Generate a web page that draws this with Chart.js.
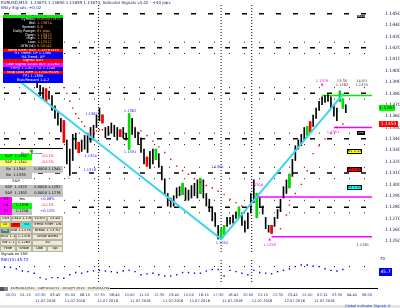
<!DOCTYPE html>
<html>
<head>
<meta charset="utf-8">
<title>EURUSD M15</title>
<script src="https://cdn.jsdelivr.net/npm/chart.js@4.4.1/dist/chart.umd.min.js"></script>
<style>
  html, body { margin: 0; padding: 0; background: #fff; }
  #wrap { position: relative; width: 400px; height: 308px; overflow: hidden; font-family: 'DejaVu Sans', sans-serif; }
  canvas { position: absolute; left: 0; }
  .c { position: absolute; box-sizing: border-box; font-size: 3.6px; line-height: 3.8px; white-space: nowrap; overflow: hidden;
       display: flex; flex-direction: column; justify-content: center; align-items: center; text-align: center; }
  .t { position: absolute; white-space: nowrap; font-size: 4px; line-height: 4px; }
  .n { position: absolute; white-space: nowrap; font-size: 3.6px; line-height: 3.6px; transform: translate(-50%, -50%); text-align: center; }
</style>
</head>
<body>
<div id="wrap">
  <canvas id="main" width="400" height="256" style="top:0;width:400px;height:256px"></canvas>
  <canvas id="ind" width="400" height="30" style="top:256px;width:400px;height:30px"></canvas>
</div>
<script>
// price bars (M15), index 0..115
const barHigh = [
  1.1430, 1.1429, 1.1424, 1.1420, 1.1416, 1.1414, 1.1412, 1.1407, 1.1406, 1.1402,
  1.1399, 1.1394, 1.1387, 1.1385, 1.1384, 1.1382, 1.1378, 1.1369, 1.1363, 1.1358,
  1.1356, 1.1339, 1.1331, 1.1344, 1.1345, 1.1337, 1.1339, 1.1343, 1.1345, 1.1350,
  1.1352, 1.1361, 1.1367, 1.1361, 1.1350, 1.1351, 1.1354, 1.1352, 1.1350, 1.1348,
  1.1350, 1.1345, 1.1362, 1.1358, 1.1350, 1.1346, 1.1341, 1.1331, 1.1324, 1.1329,
  1.1331, 1.1331, 1.1327, 1.1316, 1.1305, 1.1292, 1.1288, 1.1290, 1.1297, 1.1298,
  1.1301, 1.1297, 1.1295, 1.1299, 1.1301, 1.1304, 1.1305, 1.1304, 1.1292, 1.1287,
  1.1280, 1.1275, 1.1264, 1.1261, 1.1264, 1.1271, 1.1271, 1.1273, 1.1276, 1.1280,
  1.1275, 1.1268, 1.1275, 1.1292, 1.1304, 1.1292, 1.1288, 1.1281, 1.1271, 1.1264,
  1.1264, 1.1271, 1.1278, 1.1287, 1.1298, 1.1304, 1.1309, 1.1322, 1.1334, 1.1339,
  1.1344, 1.1350, 1.1351, 1.1355, 1.1361, 1.1367, 1.1373, 1.1377, 1.1378, 1.1379,
  1.1377, 1.1370, 1.1367, 1.1382, 1.1375, 1.1370
];
const barLow = [
  1.1423, 1.1420, 1.1416, 1.1412, 1.1407, 1.1406, 1.1402, 1.1399, 1.1397, 1.1394,
  1.1390, 1.1385, 1.1378, 1.1375, 1.1373, 1.1375, 1.1365, 1.1358, 1.1352, 1.1346,
  1.1337, 1.1318, 1.1308, 1.1321, 1.1331, 1.1328, 1.1329, 1.1331, 1.1328, 1.1337,
  1.1339, 1.1350, 1.1356, 1.1354, 1.1341, 1.1343, 1.1345, 1.1342, 1.1339, 1.1342,
  1.1341, 1.1339, 1.1331, 1.1344, 1.1341, 1.1335, 1.1328, 1.1318, 1.1316, 1.1314,
  1.1318, 1.1322, 1.1315, 1.1304, 1.1291, 1.1281, 1.1280, 1.1281, 1.1288, 1.1290,
  1.1291, 1.1286, 1.1286, 1.1288, 1.1290, 1.1288, 1.1292, 1.1288, 1.1281, 1.1276,
  1.1268, 1.1263, 1.1252, 1.1252, 1.1256, 1.1263, 1.1265, 1.1266, 1.1270, 1.1271,
  1.1264, 1.1258, 1.1261, 1.1275, 1.1284, 1.1271, 1.1280, 1.1274, 1.1261, 1.1258,
  1.1257, 1.1263, 1.1270, 1.1276, 1.1288, 1.1292, 1.1297, 1.1307, 1.1321, 1.1331,
  1.1334, 1.1339, 1.1343, 1.1346, 1.1351, 1.1358, 1.1365, 1.1370, 1.1372, 1.1373,
  1.1367, 1.1360, 1.1356, 1.1373, 1.1367, 1.1363
];
const greenBars = [42, 51, 60, 66, 73, 74, 79, 85, 96, 102, 113, 114];
const redBars = [14, 20, 25, 33, 39, 48, 90, 103];

// parabolic SAR dots
const sarIdx = [19, 20, 21, 22, 23, 24, 25, 26, 27, 29, 30, 31, 32, 33,
  44, 46, 48, 50, 52, 54, 56, 58, 60, 62, 64, 66, 68, 70, 72, 74, 76, 78, 80,
  93, 95, 96, 98, 100, 102, 104, 106, 108, 110, 112, 114];
const sarPrice = [1.1390, 1.1385, 1.1380, 1.1373, 1.1367, 1.1362, 1.1358, 1.1355, 1.1351, 1.1345, 1.1346, 1.1347, 1.1348, 1.1348,
  1.1350, 1.1347, 1.1343, 1.1338, 1.1333, 1.1328, 1.1322, 1.1316, 1.1312, 1.1309, 1.1305, 1.1302, 1.1299, 1.1297, 1.1294, 1.1291, 1.1287, 1.1284, 1.1281,
  1.1261, 1.1273, 1.1282, 1.1292, 1.1300, 1.1312, 1.1327, 1.1334, 1.1340, 1.1345, 1.1350, 1.1353];

// zigzag swing points
const zigzagIdx = [0, 73, 114.3];
const zigzagPrice = [1.1401, 1.1252, 1.1380];

// levels
const keyLevels = [1.1450, 1.1420, 1.1380, 1.1340, 1.1310, 1.1280];
const dotLevels = [1.1425, 1.1415, 1.1385, 1.1375, 1.1345, 1.1335, 1.1315, 1.1305, 1.1286, 1.1275];
const hLinePrice = [1.1378, 1.1350, 1.1289, 1.1254];
const hLineFrom = [107, 111, 85, 90];
const hLineColors = ['#00ee00', '#ff00ff', '#ff00ff', '#ff00ff'];
const sessionBreaks = [31.7, 73, 83.3];

const priceTicks = [1.1450, 1.1440, 1.1430, 1.1420, 1.1410, 1.1400, 1.1390, 1.1380, 1.1370, 1.1360, 1.1350,
  1.1340, 1.1330, 1.1320, 1.1310, 1.1300, 1.1290, 1.1280, 1.1270, 1.1260, 1.1250];

// oscillator, one value every 2 bars
const osc = [67, 67, 60, 50, 47, 40, 20, 13, 20, 20, 17, 33, 43, 40, 47, 50, 53, 50, 47, 43,
  50, 53, 47, 33, 37, 40, 33, 27, 27, 33, 43, 43, 40, 40, 50, 57, 57, 27, 53, 47,
  40, 33, 53, 43, 40, 37, 47, 53, 60, 70, 77, 77, 73, 70, 60, 53, 50, 57];
const oscLevel = 70;

// time axis
const timeIdx = [0, 5, 10, 15, 20, 25, 30, 35, 40, 45, 50, 55, 60, 65, 70, 75, 80, 85, 90, 95, 100, 105, 110, 115, 120];
const timeText = ['00:00', '01:15', '02:30', '03:45', '05:00', '06:15', '07:30', '08:45', '10:00', '11:15', '12:30', '13:45',
  '15:00', '16:15', '17:30', '18:45', '20:00', '21:15', '22:30', '23:45', '01:00', '02:15', '03:30', '04:45', '06:00'];
const dateIdx = [13, 23, 34, 45, 56, 65, 76, 86, 97, 107];
const dateText = ['11.07.2016', '11.07.2016', '11.07.2016', '11.07.2016', '11.07.2016', '11.07.2016', '11.07.2016', '11.07.2016', '12.07.2016', '12.07.2016'];

const priceMin = 1.12406, priceMax = 1.14585;
// x range shifted by half a pixel so 1px wicks land on whole pixels
const xMin = -0.17, xMax = 123.83, lastIdx = 124;

// ---- main chart ----
function hline(p, from, color, width, dash, order) {
  return { type: 'line', data: [{ x: from, y: p }, { x: lastIdx, y: p }], borderColor: color, borderWidth: width,
    borderDash: dash, pointRadius: 0, order: order };
}
function vline(x, lo, hi, order) {
  return { type: 'line', data: [{ x: x, y: lo }, { x: x, y: hi }], borderColor: '#000', borderWidth: 1,
    borderDash: [1, 2], pointRadius: 0, order: order };
}

const bodyIdx = greenBars.concat(redBars);
const mainSets = [
  { type: 'line', data: sarIdx.map((x, k) => ({ x: x, y: sarPrice[k] })), showLine: false, pointRadius: 1,
    pointStyle: 'rect', pointBackgroundColor: '#ff0000', pointBorderWidth: 0, order: 0 },
  { type: 'line', data: zigzagIdx.map((x, k) => ({ x: x, y: zigzagPrice[k] })), borderColor: '#3ad4f0',
    borderWidth: 2, pointRadius: 0, order: 1 },
  { type: 'bar', data: bodyIdx.map(i => ({ x: i, y: [barLow[i], barHigh[i]] })),
    backgroundColor: bodyIdx.map(i => greenBars.includes(i) ? '#00dd00' : '#ff0000'),
    barThickness: 2, borderWidth: 0, grouped: false, order: 2 },
  { type: 'bar', data: barHigh.map((h, i) => ({ x: i, y: [barLow[i], h] })), backgroundColor: '#000',
    barThickness: 1, borderWidth: 0, grouped: false, order: 3 },
  ...hLinePrice.map((p, k) => hline(p, hLineFrom[k], hLineColors[k], 1.5, [], 4)),
  ...keyLevels.map(p => hline(p, xMin, '#000', 1.5, [5, 12], 5)),
  ...dotLevels.map(p => hline(p, xMin, '#222', 1, [1, 14], 6)),
  ...sessionBreaks.map(s => vline(s, priceMin, priceMax, 7))
];

const mainChart = new Chart(document.getElementById('main'), {
  type: 'bar',
  data: { datasets: mainSets },
  options: {
    responsive: false, animation: false,
    layout: { padding: 0 },
    plugins: { legend: { display: false }, tooltip: { enabled: false } },
    scales: {
      x: { type: 'linear', min: xMin, max: xMax, offset: false, display: false },
      y: {
        position: 'right', min: priceMin, max: priceMax,
        grid: { display: false }, border: { display: false },
        afterBuildTicks: ax => { ax.ticks = priceTicks.map(v => ({ value: v })); },
        afterFit: ax => { ax.width = 28; ax.paddingTop = 0; ax.paddingBottom = 0; },
        ticks: { font: { family: 'DejaVu Sans', size: 4.5 }, color: '#202048', padding: 5, autoSkip: false,
          callback: v => v.toFixed(4) }
      }
    }
  }
});

// ---- oscillator pane ----
new Chart(document.getElementById('ind'), {
  type: 'line',
  data: {
    datasets: [
      { data: osc.map((v, k) => ({ x: k * 2, y: v })), showLine: false, pointRadius: 1, pointStyle: 'rect',
        pointBackgroundColor: '#0000ff', pointBorderWidth: 0 },
      hline(oscLevel, xMin, '#000', 1, [1, 14], 1),
      ...sessionBreaks.map(s => vline(s, 0, 100, 2))
    ]
  },
  options: {
    responsive: false, animation: false,
    layout: { padding: { right: 28 } },
    plugins: { legend: { display: false }, tooltip: { enabled: false } },
    scales: {
      x: { type: 'linear', min: xMin, max: xMax, display: false },
      y: { min: 0, max: 100, display: false }
    }
  }
});

// ---- overlays ----
const wrap = document.getElementById('wrap');
const xs = mainChart.scales.x, ys = mainChart.scales.y;

function box(x, y, w, h, bg, html, color, extra) {
  const d = document.createElement('div');
  d.className = 'c';
  d.style.cssText = `left:${x}px;top:${y}px;width:${w}px;height:${h}px;background:${bg};color:${color || '#000'};${extra || ''}`;
  d.innerHTML = html;
  wrap.appendChild(d);
  return d;
}
function text(x, y, html, color, cls, extra) {
  const d = document.createElement('div');
  d.className = cls || 't';
  d.style.cssText = `left:${x}px;top:${y}px;color:${color};${extra || ''}`;
  d.innerHTML = html;
  wrap.appendChild(d);
}

// title
text(1, 1, 'EURUSD,M15 &nbsp;1.13674 1.13690 1.13655 1.13674, Indicator Signals v4.02 - +40 pips', '#1a1a60');
text(1, 6, 'Wkly Signals: +0.02', '#3030a0');

// info panel
box(3, 15, 60, 3, '#00ee00', '*', '#000');
const info = [['Symbol:', 'EURUSD M15'], ['Bid:', '1.13674'], ['Spread:', '0.6'], ['Daily Range:', '81 pips'],
  ['Open:', '1.13412'], ['High:', '1.13815'], ['Low:', '1.12517'], ['ATR(14):', '0.00142']];
box(3, 18, 60, 31, '#000', info.map(r =>
  `<div style="display:flex;width:60px"><span style="width:34px;text-align:right;color:#fff">${r[0]}&nbsp;</span><span style="color:#ff9933">${r[1]}</span></div>`).join(''));
box(3, 49, 60, 3, '#ff0000', 'Trend Alert: BUY 1.1378 M15', '#fff');
box(3, 52, 60, 7, '#0000ff', 'H1 Trend: UP 1.1380<br>H4 Trend: UP', '#fff');
box(3, 59, 60, 4, '#ff0000', 'Signal: BUY', '#fff');
box(3, 63, 60, 4, '#ff00ff', 'Last Signal 12:45 BUY 1.1262', '#fff');
box(3, 67, 60, 4, '#0000ff', 'Entry 1.1262 / SL 1.1240', '#fff');
box(3, 71, 60, 3, '#ff0000', 'Stop Loss Alert 1.1254 MOVE', '#fff');
box(3, 74, 60, 9, '#0000ff', 'TP1 1.1380<br>Risk/Reward 1:4.2', '#fff');

// status table
const gray = '#c4c4c4', beige = '#ece9d8';
box(0, 148, 63, 6, '#fff', 'Wkly Status <span style="color:#00c000">■</span> Pivot Range', '#000', 'border-top:1px solid #000');
box(0, 154, 32, 6, '#00ff00', 'S&amp;P &nbsp;1.1380');
box(32, 154, 31, 6, '#fff', '-0.11%', '#ff0000');
box(0, 160, 32, 6, '#ffff80', 'S&amp;P &nbsp;1.1341');
box(32, 160, 31, 6, '#fff', '-0.11%', '#ff0000');
box(0, 166, 32, 7, gray, 'Bx &nbsp;1.1345');
box(32, 166, 31, 7, gray, '0.0000 1.1345');
box(0, 173, 32, 6, gray, 'Bx &nbsp;1.1335');
box(0, 179, 32, 6, '#fff', 'S&amp;P');
box(0, 185, 32, 6, gray, 'S&amp;P &nbsp;1.1322');
box(32, 185, 31, 6, gray, '0.0000 1.1292');
box(0, 191, 32, 6, gray, 'S&amp;P &nbsp;1.1302');
box(32, 191, 31, 6, gray, '0.0000 1.1278');
box(0, 197, 12, 6, '#ff00ff', 'H1');
box(12, 197, 20, 6, '#fff', 'Yes');
box(32, 197, 31, 6, '#fff', '+0.08%', '#0000ff');
box(0, 203, 12, 6, '#ff00ff', 'H4');
box(12, 203, 20, 6, '#00ff00', '1.1378');
box(32, 203, 31, 6, '#fff', '-0.11%', '#ff0000');
box(0, 209, 12, 6, '#ff00ff', 'D1');
box(12, 209, 20, 6, gray, '1.1256');
box(32, 209, 31, 6, '#fff', '+0.12%', '#0000ff');
const bd = 'border:1px solid #b8b4a0';
box(0, 216, 11, 6, beige, '15M', '#000', bd);
box(11, 216, 21, 6, beige, '1.1345 1.1380', '#000', bd);
box(32, 216, 15, 6, beige, '15:00', '#000', bd);
box(47, 216, 16, 6, beige, '13:45', '#000', bd);
box(0, 222, 10, 6, '#ffff00', '10', '#000', bd);
box(10, 222, 11, 6, '#ff0000', '20', '#000', bd);
box(21, 222, 11, 6, '#00ffff', '50', '#000', bd);
box(32, 222, 31, 6, beige, 'Trend Filter: ON', '#000', bd);
box(0, 228, 10, 6, '#4a8080', 'H4', '#fff', bd);
box(10, 228, 22, 6, beige, 'Bid 1.1376', '#000', bd);
box(32, 228, 31, 6, beige, 'Break 1.13 R2', '#000', bd);
box(0, 234, 16, 6, beige, 'M15 1.1', '#000', bd);
box(16, 234, 16, 6, beige, '1.1378', '#000', bd);
box(32, 234, 31, 6, beige, 'Show Notes', '#000', bd);
box(0, 240, 16, 6, beige, 'SW 1.1', '#000', bd);
box(16, 240, 16, 6, beige, '1.1265', '#000', bd);
box(32, 240, 31, 6, beige, '50', '#000', bd);
box(0, 246, 16, 6, beige, 'Hide', '#000', bd);
box(16, 246, 16, 6, beige, 'Show', '#000', bd);
box(32, 246, 15, 6, beige, 'Low', '#000', bd);
box(47, 246, 16, 6, beige, 'Up', '#000', bd);
text(1, 252, 'Signals on 15M', '#000', 't', 'font-size:3.5px');
text(1, 258, 'RSI(14) 45.72', '#0000ff');

// swing notes, anchored on bar index and price
const notes = [
  [29.3, 1.1361, '1.1367', '#2020ff'], [42.3, 1.1364, '1.1362', '#2020ff'], [42.3, 1.1328, '1.1331', '#2020ff'],
  [29, 1.1324, '1.1324', '#2020ff'], [28.7, 1.1312, '1.1318', '#2020ff'], [21.7, 1.1305, '1', '#2020ff'],
  [71.7, 1.1314, '1.1305', '#2020ff'], [73.3, 1.1248, '1.1252', '#2020ff'], [85, 1.1299, '1.1304', '#ff00ff'],
  [89.3, 1.1251, '▲', '#ff00ff'], [89.3, 1.1246, '1.1258', '#ff00ff'], [110.7, 1.1345, '1.1351', '#ff00ff'],
  [107, 1.1388, '1.1379<br>▼', '#ff00ff'], [113.7, 1.1388, '13:30<br>1.1382', '#802020'],
  [120.3, 1.1388, '14:00<br>1.1370', '#404040'], [120.7, 1.1246, '1.1261', '#303060']
];
notes.forEach(n => text(xs.getPixelForValue(n[0]), ys.getPixelForValue(n[1]), n[2], n[3], 'n'));

// right side objects
box(357, 15, 8, 3, '#202020', 'M15', '#fff');
box(357, 131, 8, 4, '#202020', 'H1', '#fff', 'border:1px solid #000');
box(347, 149, 15, 5, '#ffff00', 'R1 1.13', '#000', 'border:1px solid #000');
box(347, 167, 15, 5, '#ff0000', 'PP 1.13', '#000', 'border:1px solid #000');
box(347, 185, 15, 5, '#00ffff', 'S1 1.12', '#000', 'border:1px solid #000');
box(379, ys.getPixelForValue(1.1367) - 3, 16, 6, '#00ff00', '1.1367', '#000', 'font-size:4.5px');
box(379, ys.getPixelForValue(1.1353) - 3, 19, 6, '#ff0000', '1.1353', '#fff', 'font-size:4.5px');
text(380, 257, '70', '#202048');
box(379, 268, 13, 8, '#0000ff', '45.7', '#fff', 'font-size:4.5px');

// bottom strip
box(0, 287, 4, 4, '#555', '');
box(4, 287, 4, 4, '#888', '');
box(10, 287, 100, 4, beige, 'EURUSD,M15 &nbsp; GBPUSD,H1 &nbsp; USDJPY,M15 &nbsp; EURUSD,H4', '#333');
box(110, 288, 268, 1, '#000', '');
timeIdx.forEach((t, k) => text(xs.getPixelForValue(t) + 1, 293, timeText[k], k % 2 ? '#202060' : '#2040c0', 't', 'font-size:3.6px'));
dateIdx.forEach((t, k) => text(xs.getPixelForValue(t) - 8, 299, dateText[k], '#202060', 't', 'font-size:3.6px'));
box(0, 305, 400, 3, '#e4e4e4', '');
text(345, 304, 'Global Indicator Signals ©', '#2040c0', 't', 'font-size:3.5px');
</script>
</body>
</html>
